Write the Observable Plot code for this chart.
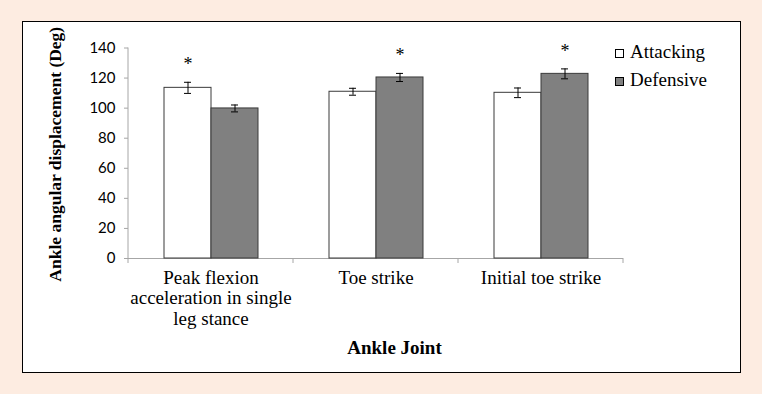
<!DOCTYPE html>
<html>
<head>
<meta charset="utf-8">
<script src="https://cdn.jsdelivr.net/npm/d3@7"></script>
<script src="https://cdn.jsdelivr.net/npm/@observablehq/plot@0.6"></script>
<style>
  html, body { margin: 0; padding: 0; }
  body { width: 762px; height: 394px; background: #fdece1; position: relative; overflow: hidden;
         font-family: "Liberation Serif", "Times New Roman", serif; }
  #box { position: absolute; left: 22px; top: 21px; width: 719px; height: 352px; box-sizing: border-box;
         border: 1.5px solid #000; background: #fff; }
  #chart { position: absolute; left: 0; top: 0; }
  #legend { position: absolute; left: 615px; top: 38px; font-size: 19px; color: #000; }
  #legend .item { display: flex; align-items: center; height: 28px; white-space: nowrap; }
  #legend .sw { width: 9px; height: 9px; border: 1px solid #000; box-sizing: border-box; margin-right: 6px; margin-top: 2px; }
  #xtitle { position: absolute; left: 0; width: 789px; top: 337px; line-height: 22px; text-align: center;
            font-weight: bold; font-size: 19px; color: #000; }
</style>
</head>
<body>
<div id="box"></div>
<div id="chart"></div>
<div id="legend"></div>
<div id="xtitle"></div>
<script>
// ---- data ----
const categories = ["Peak flexion acceleration in single leg stance", "Toe strike", "Initial toe strike"];
const categoryLabels = ["Peak flexion\nacceleration in single\nleg stance", "Toe strike", "Initial toe strike"];
const series = ["Attacking", "Defensive"];
const seriesColors = ["#ffffff", "#808080"];
const attacking = [113.5, 110.9, 110.2];
const attackingErr = [3.7, 2.3, 3.2];
const defensive = [99.8, 120.4, 122.8];
const defensiveErr = [2.3, 2.7, 3.3];
const significant = ["Attacking", "Defensive", "Defensive"]; // group marked with *
const yTicks = [0, 20, 40, 60, 80, 100, 120, 140];
const yTitle = "Ankle angular displacement (Deg)";
const xTitle = "Ankle Joint";

// ---- table ----
const rows = [];
categories.forEach((c, i) => {
  rows.push({category: c, series: series[0], value: attacking[i], err: attackingErr[i]});
  rows.push({category: c, series: series[1], value: defensive[i], err: defensiveErr[i]});
});
const sigRows = rows.filter(r => significant[categories.indexOf(r.category)] === r.series);

const chart = Plot.plot({
  width: 762,
  height: 394,
  marginLeft: 127,
  marginRight: 138,
  marginTop: 47.5,
  marginBottom: 136,
  style: {background: "transparent", fontFamily: "'Liberation Serif', 'Times New Roman', serif", overflow: "visible", color: "#000"},
  fx: {domain: categories, padding: 0, axis: null},
  x: {domain: series, paddingInner: 0, paddingOuter: 0.75, axis: null},
  y: {domain: [0, 140], axis: null},
  color: {domain: series, range: seriesColors},
  marks: [
    Plot.ruleY([0], {stroke: "#a6a6a6"}),
    Plot.barY(rows, {fx: "category", x: "series", y: "value", fill: "series", stroke: "#3a3a3a", strokeWidth: 1}),
    Plot.ruleX(rows, {fx: "category", x: "series", y1: d => d.value - d.err, y2: d => d.value + d.err, stroke: "#000"}),
    Plot.tickY(rows, {fx: "category", x: "series", y: d => d.value + d.err, insetLeft: 20, insetRight: 20, stroke: "#000"}),
    Plot.tickY(rows, {fx: "category", x: "series", y: d => d.value - d.err, insetLeft: 20, insetRight: 20, stroke: "#000"}),
    Plot.text(sigRows, {fx: "category", x: "series", y: d => d.value + d.err, text: () => "*", dy: -18, fontSize: 18, fill: "#000"}),
    Plot.text(categories, {fx: d => d, text: (d, i) => categoryLabels[i], frameAnchor: "bottom", lineAnchor: "top",
      dy: 11, fontSize: 19, lineHeight: 1.07, fill: "#000"}),
    Plot.axisY({ticks: yTicks, tickSize: 4, tickPadding: 9, stroke: "#a6a6a6", fill: "#000", fontSize: 15,
      fontFamily: "Lato, 'Open Sans', sans-serif", label: null}),
    Plot.text([yTitle], {fx: () => categories[0], frameAnchor: "left", textAnchor: "middle", rotate: -90, dx: -73, dy: 1,
      fontWeight: "bold", fontSize: 17.5, fill: "#000"})
  ]
});
document.getElementById("chart").appendChild(chart);

// y-axis line and category separator ticks from the library's scales
const fxS = chart.scale("fx");
const yS = chart.scale("y");
const svg = d3.select(chart);
const x0 = fxS.apply(categories[0]);
svg.append("line")
  .attr("x1", x0).attr("x2", x0)
  .attr("y1", yS.apply(140)).attr("y2", yS.apply(0))
  .attr("stroke", "#a6a6a6");
const bounds = categories.map(c => fxS.apply(c)).concat([fxS.apply(categories[categories.length - 1]) + fxS.bandwidth]);
svg.append("g").selectAll("line").data(bounds).join("line")
  .attr("x1", d => d).attr("x2", d => d)
  .attr("y1", yS.apply(0)).attr("y2", yS.apply(0) + 5)
  .attr("stroke", "#a6a6a6");

// legend
const legend = d3.select("#legend");
series.forEach((s, i) => {
  const item = legend.append("div").attr("class", "item");
  item.append("div").attr("class", "sw").style("background", seriesColors[i]);
  item.append("span").text(s);
});
d3.select("#xtitle").text(xTitle);
</script>
</body>
</html>
